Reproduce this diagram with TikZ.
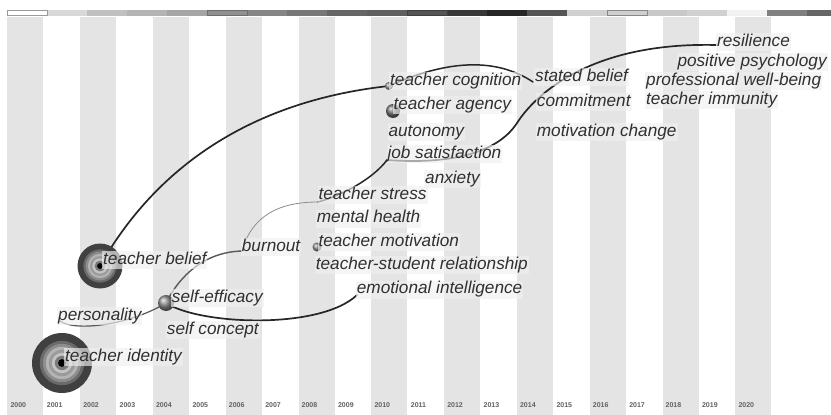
\documentclass[tikz,border=0pt]{standalone}
\usepackage{fontspec}
\setmainfont{Liberation Sans}
\definecolor{stripe}{HTML}{E4E4E4}
\definecolor{txt}{HTML}{303030}
\newcommand\treering[2]{%
  \foreach \f/\c in {1/404040,0.74/6A6A6A,0.64/8C8C8C,0.54/B4B4B4,0.44/9A9A9A,0.34/C4C4C4,0.24/7A7A7A}{%
    \definecolor{rc}{HTML}{\c}\fill[rc] (#1) circle[radius=\f*#2];}%
  \fill[black] (#1) circle[radius=0.13*#2];}
\begin{document}
\begin{tikzpicture}[x=1pt,y=-1pt,
  lbl/.style={anchor=west, inner sep=1pt, fill=black!6, fill opacity=0.65, text opacity=1,
    text=txt, font=\fontsize{17.2}{17.2}\selectfont\itshape, text height=12.4pt, text depth=3.6pt},
  yr/.style={anchor=west, inner sep=0pt, text=black!62, font=\fontsize{7}{7}\selectfont\bfseries},
  link/.style={line width=1.7pt, draw=black!85, line cap=round},
  thinlink/.style={line width=0.8pt, draw=black!45, line cap=round},
  midlink/.style={line width=1.4pt, draw=black!65, line cap=round},
  ball/.style={ball color=black!45}]
\useasboundingbox (0,0) rectangle (831,415);
\fill[white] (0,0) rectangle (831,415);
% stripes
\foreach \i in {0,2,...,20} \fill[stripe] ({7.3+36.4*\i},16.5) rectangle ({7.3+36.4*\i+36},415);
% top bar
\foreach \c [count=\k from 0] in {FFFFFF,D8D8D8,C0C0C0,B4B4B4,A5A5A5,909090,858585,777777,666666,5F5F5F,555555,383838,262626,555555,D0D0D0,CFCFCF,C8C8C8,D0D0D0,F2F2F2,808080,666666}{
  \definecolor{bc}{HTML}{\c}
  \fill[bc] ({7.3+40*\k},10) rectangle ({min(7.3+40*\k+40,831)},16);}
\foreach \k/\c in {0/999999,5/6E6E6E,10/404040,15/888888}{
  \definecolor{bd}{HTML}{\c}
  \draw[bd, line width=0.8pt] ({7.3+40*\k+0.4},10.4) rectangle ({7.3+40*\k+39.6},15.6);}
% years
\foreach \i [evaluate=\i as \yy using int(2000+\i)] in {0,...,20}
  \node[yr] (y\i) at ({7.3+36.4*\i+3},405) {\yy};
% node positions
\coordinate (tb) at (100,266);
\coordinate (ti) at (62,363);
\coordinate (tc) at (389,86);
\coordinate (ta) at (393,111);
\coordinate (tm) at (317,247);
\coordinate (sb) at (533,82);
\coordinate (res) at (716,45);
\coordinate (js) at (387,160);
\coordinate (ts) at (318,202);
\coordinate (bo) at (242,251);
\coordinate (se) at (166,303);
\coordinate (per) at (60,321);
\coordinate (ei) at (357,295);
% links
\draw[link] (tb) .. controls (160,160) and (260,100) .. (tc);
\draw[link, line width=1.5pt] (tc) .. controls (449,59) and (497,58) .. (sb);
\draw[link] (js) .. controls (440,164) and (495,157) .. (517,123)
               .. controls (535,95) and (590,42) .. (res);
\draw[link, line width=1.5pt] (ts) .. controls (340,196) and (372,180) .. (js);
\draw[thinlink] (bo) .. controls (252,215) and (280,202) .. (ts);
\draw[midlink] (se) .. controls (180,275) and (205,252) .. (bo);
\draw[midlink, line width=1.2pt] (per) .. controls (75,332) and (130,325) .. (se);
\draw[link] (se) .. controls (200,325) and (320,330) .. (ei);
% nodes
\treering{ti}{30}
\treering{tb}{22.5}
\shade[ball] (se) circle[radius=8];
\shade[ball] (tc) circle[radius=4];
\shade[ball, ball color=black!55] (ta) circle[radius=7];
\shade[ball] (tm) circle[radius=4.5];
% labels
\node[lbl] (Lres) at (716,42) {resilience};
\node[lbl] (Lpp) at (676.3,62) {positive psychology};
\node[lbl] (Lsb) at (534,77) {stated belief};
\node[lbl] (Lpw) at (645,81) {professional well-being};
\node[lbl] (Lcom) at (535.7,102) {commitment};
\node[lbl] (Lti2) at (645,100) {teacher immunity};
\node[lbl] (Lmc) at (535.7,132) {motivation change};
\node[lbl] (Ltc) at (389,81) {teacher cognition};
\node[lbl] (Lta) at (392.3,105) {teacher agency};
\node[lbl] (Lau) at (387.3,132) {autonomy};
\node[lbl] (Ljs) at (386.3,154) {job satisfaction};
\node[lbl] (Lanx) at (424,179) {anxiety};
\node[lbl] (Lts) at (317.3,195) {teacher stress};
\node[lbl] (Lmh) at (315.7,218.5) {mental health};
\node[lbl] (Ltm) at (317.3,242) {teacher motivation};
\node[lbl] (Ltsr) at (314.7,265) {teacher-student relationship};
\node[lbl] (Lei) at (355.7,289.5) {emotional intelligence};
\node[lbl] (Lbo) at (240.7,247) {burnout};
\node[lbl] (Ltb) at (102,260) {teacher belief};
\node[lbl] (Lse) at (170.7,298) {self-efficacy};
\node[lbl] (Lsc) at (165.7,330) {self concept};
\node[lbl] (Lper) at (57,316) {personality};
\node[lbl] (Lti) at (64,357) {teacher identity};
\end{tikzpicture}
\end{document}
